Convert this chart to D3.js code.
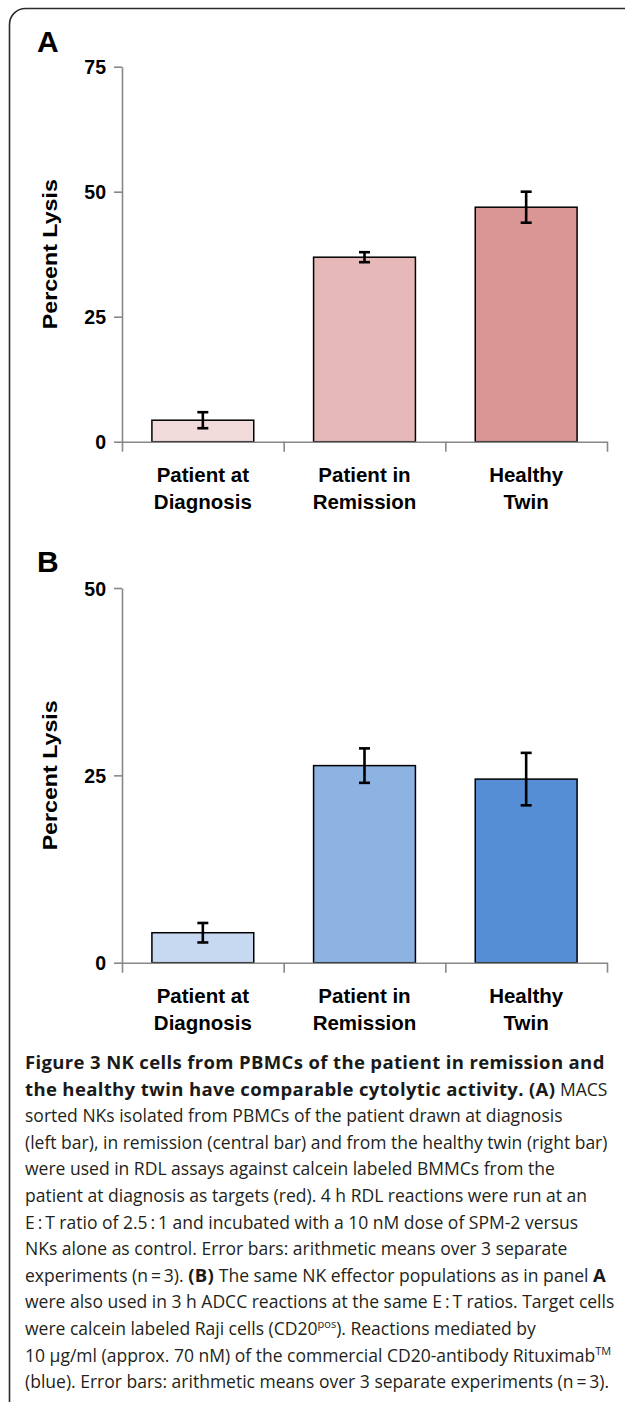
<!DOCTYPE html>
<html>
<head>
<meta charset="utf-8">
<script src="https://cdn.jsdelivr.net/npm/d3@7"></script>
<style>
  body { margin: 0; background: #fff; }
  svg { display: block; }
  .lbl { font-family: "Liberation Sans", Arial, sans-serif; font-weight: bold; fill: #000; }
  .cap { font-family: "Open Sans", "Noto Sans", sans-serif; fill: #231f20; }
</style>
</head>
<body>
<div id="chart"></div>
<script>
var svgWidth = 625;
var svgHeight = 1402;

// data
var categories = ["Patient at\nDiagnosis", "Patient in\nRemission", "Healthy\nTwin"];
var lysisA = [4.3, 36.9, 46.9];
var errorA = [1.6, 1.0, 3.1];
var lysisB = [4.0, 26.3, 24.5];
var errorB = [1.3, 2.3, 3.5];
var ticksA = [0, 25, 50, 75];
var ticksB = [0, 25, 50];
var colorsA = ["#f2dcdb", "#e6b9b8", "#d99694"];
var colorsB = ["#c6d9f1", "#8db3e2", "#558ed5"];

var captionLines = [
  [["b", "Figure 3 NK cells from PBMCs of the patient in remission and"]],
  [["b", "the healthy twin have comparable cytolytic activity. (A)"], ["n", " MACS"]],
  [["n", "sorted NKs isolated from PBMCs of the patient drawn at diagnosis"]],
  [["n", "(left bar), in remission (central bar) and from the healthy twin (right bar)"]],
  [["n", "were used in RDL assays against calcein labeled BMMCs from the"]],
  [["n", "patient at diagnosis as targets (red). 4 h RDL reactions were run at an"]],
  [["n", "E\u2009:\u2009T ratio of 2.5\u2009:\u20091 and incubated with a 10 nM dose of SPM-2 versus"]],
  [["n", "NKs alone as control. Error bars: arithmetic means over 3 separate"]],
  [["n", "experiments (n\u2009=\u20093). "], ["b", "(B)"], ["n", " The same NK effector populations as in panel "], ["b", "A"]],
  [["n", "were also used in 3 h ADCC reactions at the same E\u2009:\u2009T ratios. Target cells"]],
  [["n", "were calcein labeled Raji cells (CD20"], ["s", "pos"], ["n", "). Reactions mediated by"]],
  [["n", "10 \u00b5g/ml (approx. 70 nM) of the commercial CD20-antibody Rituximab"], ["s", "TM"]],
  [["n", "(blue). Error bars: arithmetic means over 3 separate experiments (n\u2009=\u20093)."]]
];

var svg = d3.select("#chart")
  .append("svg")
  .attr("width", svgWidth)
  .attr("height", svgHeight);

// frame
svg.append("rect")
  .attr("x", 9.5).attr("y", 8.5)
  .attr("width", 660).attr("height", 1420)
  .attr("rx", 16).attr("ry", 16)
  .attr("fill", "none")
  .attr("stroke", "#2b2b2b")
  .attr("stroke-width", 1.6);

var axisLeftX = 122, axisRightX = 607;

function drawPanel(letter, letterY, values, errors, ticks, colors, yTop, yBottom) {
  var g = svg.append("g");

  g.append("text")
    .attr("class", "lbl")
    .attr("x", 37).attr("y", letterY)
    .attr("font-size", 30)
    .text(letter);

  var y = d3.scaleLinear()
    .domain([0, d3.max(ticks)])
    .range([yBottom, yTop]);

  var x = d3.scaleBand()
    .domain(categories)
    .range([axisLeftX, axisRightX])
    .paddingInner(0.37)
    .paddingOuter(0.185);

  var edges = d3.scaleLinear()
    .domain([0, categories.length])
    .range([axisLeftX, axisRightX]);

  var leftAxis = d3.axisLeft(y)
    .tickValues(ticks)
    .tickSize(8)
    .tickSizeOuter(0)
    .tickPadding(8);

  var yAxisG = g.append("g")
    .attr("transform", `translate(${axisLeftX}, 0)`)
    .call(leftAxis);
  yAxisG.select(".domain").attr("stroke", "#888").attr("stroke-width", 1.6);
  yAxisG.selectAll(".tick line").attr("stroke", "#888").attr("stroke-width", 1.6);
  yAxisG.selectAll(".tick text")
    .attr("class", "lbl")
    .attr("font-size", 19.5)
    .attr("dy", "0.36em")
    .attr("fill", "#000");

  // bars
  g.selectAll("rect.bar")
    .data(values)
    .enter()
    .append("rect")
    .attr("class", "bar")
    .attr("x", (d, i) => x(categories[i]))
    .attr("y", d => y(d))
    .attr("width", x.bandwidth())
    .attr("height", d => y(0) - y(d))
    .attr("fill", (d, i) => colors[i])
    .attr("stroke", "#000")
    .attr("stroke-width", 1.5);

  var bottomAxis = d3.axisBottom(edges)
    .tickValues(d3.range(categories.length + 1))
    .tickFormat("")
    .tickSize(10)
    .tickSizeOuter(0);

  var xAxisG = g.append("g")
    .attr("transform", `translate(0, ${yBottom})`)
    .call(bottomAxis);
  xAxisG.select(".domain").attr("stroke", "#888").attr("stroke-width", 1.6);
  xAxisG.selectAll(".tick line").attr("stroke", "#888").attr("stroke-width", 1.6);

  // error bars
  var eb = g.selectAll("g.err")
    .data(values)
    .enter()
    .append("g")
    .attr("class", "err")
    .attr("stroke", "#000")
    .attr("stroke-width", 2.6);
  var cx = (i) => x(categories[i]) + x.bandwidth() / 2;
  eb.append("line")
    .attr("x1", (d, i) => cx(i)).attr("x2", (d, i) => cx(i))
    .attr("y1", (d, i) => y(d + errors[i])).attr("y2", (d, i) => y(d - errors[i]));
  eb.append("line")
    .attr("x1", (d, i) => cx(i) - 5.5).attr("x2", (d, i) => cx(i) + 5.5)
    .attr("y1", (d, i) => y(d + errors[i])).attr("y2", (d, i) => y(d + errors[i]));
  eb.append("line")
    .attr("x1", (d, i) => cx(i) - 5.5).attr("x2", (d, i) => cx(i) + 5.5)
    .attr("y1", (d, i) => y(d - errors[i])).attr("y2", (d, i) => y(d - errors[i]));

  // category labels
  var cl = g.selectAll("text.cat")
    .data(categories)
    .enter()
    .append("text")
    .attr("class", "lbl")
    .attr("text-anchor", "middle")
    .attr("font-size", 20.5);
  cl.each(function(d) {
    var parts = d.split("\n");
    var t = d3.select(this);
    parts.forEach(function(p, k) {
      t.append("tspan")
        .attr("x", x(d) + x.bandwidth() / 2)
        .attr("y", yBottom + 40 + k * 27.5)
        .text(p);
    });
  });

  // y title
  g.append("text")
    .attr("class", "lbl")
    .attr("font-size", 21)
    .attr("text-anchor", "middle")
    .attr("textLength", 150)
    .attr("lengthAdjust", "spacingAndGlyphs")
    .attr("transform", `translate(57, ${(yTop + yBottom) / 2}) rotate(-90)`)
    .text("Percent Lysis");
}

drawPanel("A", 52, lysisA, errorA, ticksA, colorsA, 66.7, 441.7);
drawPanel("B", 572, lysisB, errorB, ticksB, colorsB, 588, 962.7);

// caption
var capG = svg.append("g");
var capText = capG.selectAll("text")
  .data(captionLines)
  .enter()
  .append("text")
  .attr("class", "cap")
  .attr("font-size", 17.5)
  .attr("x", 0)
  .attr("y", (d, i) => 1069 + i * 26.6);

capText.each(function(line) {
  var t = d3.select(this);
  var raised = false;
  line.forEach(function(seg) {
    var s = t.append("tspan").text(seg[1]);
    if (seg[0] === "b") {
      s.attr("font-weight", "bold")
        .attr("font-size", 18.5)
        .attr("letter-spacing", 0.35)
        .attr("fill", "#1a1a1a");
    }
    if (seg[0] === "s") {
      s.attr("font-size", 11).attr("dy", -7);
      raised = true;
    } else if (raised) {
      s.attr("dy", 7);
      raised = false;
    }
  });
});

// squeeze the caption horizontally so the long plain line matches the figure
var refWidth = capText.nodes()[3].getComputedTextLength();
var k = 583 / refWidth;
capG.attr("transform", `translate(25, 0) scale(${k}, 1)`);
</script>
</body>
</html>
